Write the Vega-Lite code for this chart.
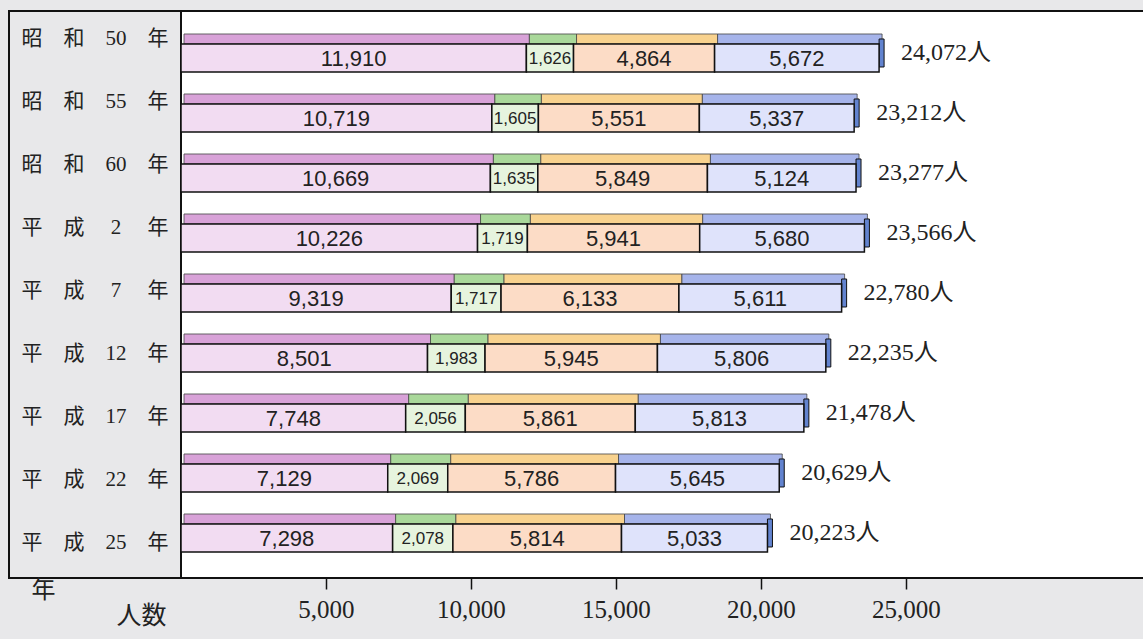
{
  "$schema": "https://vega.github.io/schema/vega-lite/v6.json",
  "background": "#e8e8ea",
  "padding": {"left": 8, "top": 10, "right": 0, "bottom": 40},
  "autosize": {"type": "pad"},
  "datasets": {
    "d": [
      {"year": "昭　和　50　年", "cat": "c1", "value": 11910},
      {"year": "昭　和　50　年", "cat": "c2", "value": 1626},
      {"year": "昭　和　50　年", "cat": "c3", "value": 4864},
      {"year": "昭　和　50　年", "cat": "c4", "value": 5672},
      {"year": "昭　和　55　年", "cat": "c1", "value": 10719},
      {"year": "昭　和　55　年", "cat": "c2", "value": 1605},
      {"year": "昭　和　55　年", "cat": "c3", "value": 5551},
      {"year": "昭　和　55　年", "cat": "c4", "value": 5337},
      {"year": "昭　和　60　年", "cat": "c1", "value": 10669},
      {"year": "昭　和　60　年", "cat": "c2", "value": 1635},
      {"year": "昭　和　60　年", "cat": "c3", "value": 5849},
      {"year": "昭　和　60　年", "cat": "c4", "value": 5124},
      {"year": "平　成　 2 　年", "cat": "c1", "value": 10226},
      {"year": "平　成　 2 　年", "cat": "c2", "value": 1719},
      {"year": "平　成　 2 　年", "cat": "c3", "value": 5941},
      {"year": "平　成　 2 　年", "cat": "c4", "value": 5680},
      {"year": "平　成　 7 　年", "cat": "c1", "value": 9319},
      {"year": "平　成　 7 　年", "cat": "c2", "value": 1717},
      {"year": "平　成　 7 　年", "cat": "c3", "value": 6133},
      {"year": "平　成　 7 　年", "cat": "c4", "value": 5611},
      {"year": "平　成　12　年", "cat": "c1", "value": 8501},
      {"year": "平　成　12　年", "cat": "c2", "value": 1983},
      {"year": "平　成　12　年", "cat": "c3", "value": 5945},
      {"year": "平　成　12　年", "cat": "c4", "value": 5806},
      {"year": "平　成　17　年", "cat": "c1", "value": 7748},
      {"year": "平　成　17　年", "cat": "c2", "value": 2056},
      {"year": "平　成　17　年", "cat": "c3", "value": 5861},
      {"year": "平　成　17　年", "cat": "c4", "value": 5813},
      {"year": "平　成　22　年", "cat": "c1", "value": 7129},
      {"year": "平　成　22　年", "cat": "c2", "value": 2069},
      {"year": "平　成　22　年", "cat": "c3", "value": 5786},
      {"year": "平　成　22　年", "cat": "c4", "value": 5645},
      {"year": "平　成　25　年", "cat": "c1", "value": 7298},
      {"year": "平　成　25　年", "cat": "c2", "value": 2078},
      {"year": "平　成　25　年", "cat": "c3", "value": 5814},
      {"year": "平　成　25　年", "cat": "c4", "value": 5033}
    ]
  },
  "data": {"name": "d"},
  "transform": [
    {"stack": "value", "groupby": ["year"], "sort": [{"field": "cat", "order": "ascending"}], "as": ["x0", "x1"]},
    {"calculate": "(datum.x0 + datum.x1) / 2", "as": "mid"},
    {"calculate": "format(datum.x1, ',') + '人'", "as": "totalLabel"}
  ],
  "spacing": 0,
  "bounds": "flush",
  "hconcat": [
    {
      "width": 172,
      "height": 567,
      "view": {"fill": "#e8e8ea", "stroke": "#111111", "strokeWidth": 2},
      "transform": [{"filter": "datum.cat === 'c1'"}],
      "mark": {"type": "text", "font": "Liberation Serif, Noto Sans CJK JP", "fontSize": 21, "color": "#222222", "baseline": "middle", "align": "center"},
      "encoding": {
        "y": {
          "field": "year", "type": "nominal", "axis": null,
          "scale": {
            "domain": ["昭　和　50　年", "昭　和　55　年", "昭　和　60　年", "平　成　 2 　年", "平　成　 7 　年", "平　成　12　年", "平　成　17　年", "平　成　22　年", "平　成　25　年"],
            "paddingInner": 0, "paddingOuter": 0.225, "align": 0.444
          }
        },
        "text": {"field": "year"}
      }
    },
    {
      "width": 963,
      "height": 567,
      "view": {"fill": "#ffffff", "stroke": "#111111", "strokeWidth": 2},
      "encoding": {
        "y": {
          "field": "year", "type": "nominal",
          "scale": {
            "domain": ["昭　和　50　年", "昭　和　55　年", "昭　和　60　年", "平　成　 2 　年", "平　成　 7 　年", "平　成　12　年", "平　成　17　年", "平　成　22　年", "平　成　25　年"],
            "paddingInner": 0, "paddingOuter": 0.225, "align": 0.444
          },
          "axis": {
            "title": "年", "labels": false, "ticks": false, "domain": false, "grid": false,
            "titleAngle": 0, "titleX": -150, "titleY": 579, "titleAlign": "left", "titleBaseline": "middle",
            "titleFont": "Noto Sans CJK JP", "titleFontSize": 24, "titleFontWeight": "normal", "titleColor": "#222222"
          }
        }
      },
      "layer": [
        {
          "mark": {"type": "bar", "size": 10, "yOffset": -14, "xOffset": 3, "x2Offset": 3, "stroke": "#444444", "strokeWidth": 0.8},
          "encoding": {
            "x": {
              "field": "x0", "type": "quantitative",
              "scale": {"domain": [0, 33207], "nice": false, "zero": true},
              "axis": {
                "values": [5000, 10000, 15000, 20000, 25000], "format": ",d", "grid": false, "domain": false,
                "tickColor": "#111111", "tickWidth": 1.5, "tickSize": 11,
                "labelFont": "Liberation Serif", "labelFontSize": 25, "labelColor": "#222222", "labelPadding": 8,
                "title": "人数", "titleX": -15, "titleY": 37, "titleAlign": "right", "titleBaseline": "middle",
                "titleFont": "Noto Sans CJK JP", "titleFontSize": 25, "titleFontWeight": "normal", "titleColor": "#222222"
              }
            },
            "x2": {"field": "x1"},
            "fill": {
              "field": "cat", "type": "nominal", "legend": null,
              "scale": {"domain": ["c1", "c2", "c3", "c4"], "range": ["#d8a2d8", "#a9d89a", "#f8d28e", "#a6b4ea"]}
            }
          }
        },
        {
          "transform": [{"filter": "datum.cat === 'c4'"}],
          "mark": {"type": "bar", "size": 28, "x2Offset": 5, "color": "#6283cf", "stroke": "#111111", "strokeWidth": 1},
          "encoding": {
            "x": {"field": "x1", "type": "quantitative"},
            "x2": {"field": "x1"}
          }
        },
        {
          "mark": {"type": "bar", "size": 28, "yOffset": 5, "stroke": "#111111", "strokeWidth": 1.5},
          "encoding": {
            "x": {"field": "x0", "type": "quantitative"},
            "x2": {"field": "x1"},
            "color": {
              "field": "cat", "type": "nominal", "legend": null,
              "scale": {"domain": ["c1", "c2", "c3", "c4"], "range": ["#f2dcf2", "#e6f4de", "#fcdcc6", "#dfe3fb"]}
            }
          }
        },
        {
          "transform": [{"filter": "datum.cat !== 'c2'"}],
          "mark": {"type": "text", "font": "Liberation Sans", "fontSize": 22, "color": "#222222", "baseline": "middle", "align": "center", "yOffset": 6},
          "encoding": {
            "x": {"field": "mid", "type": "quantitative"},
            "text": {"field": "value", "type": "quantitative", "format": ","}
          }
        },
        {
          "transform": [{"filter": "datum.cat === 'c2'"}],
          "mark": {"type": "text", "font": "Liberation Sans", "fontSize": 17, "color": "#222222", "baseline": "middle", "align": "center", "yOffset": 6},
          "encoding": {
            "x": {"field": "mid", "type": "quantitative"},
            "text": {"field": "value", "type": "quantitative", "format": ","}
          }
        },
        {
          "transform": [{"filter": "datum.cat === 'c4'"}],
          "mark": {"type": "text", "font": "Liberation Serif, Noto Sans CJK JP", "fontSize": 24, "color": "#222222", "baseline": "middle", "align": "left", "dx": 22},
          "encoding": {
            "x": {"field": "x1", "type": "quantitative"},
            "text": {"field": "totalLabel"}
          }
        }
      ]
    }
  ]
}
